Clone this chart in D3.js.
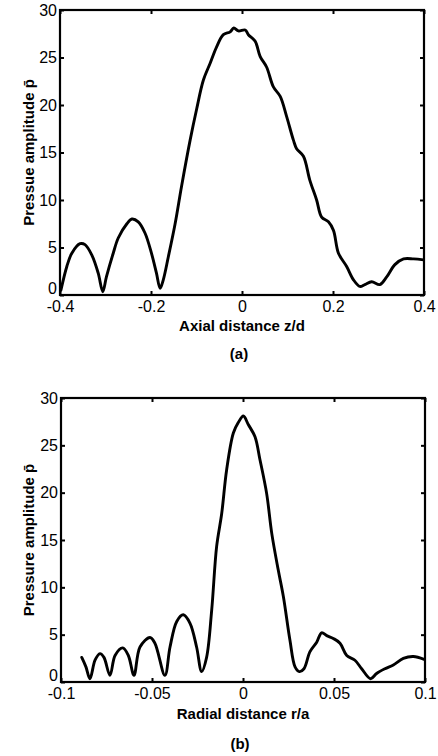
<!DOCTYPE html>
<html>
<head>
<meta charset="utf-8">
<script src="https://cdn.jsdelivr.net/npm/d3@7"></script>
<style>
  body { margin: 0; background: #fff; }
  svg text { font-family: "Liberation Sans", Arial, sans-serif; fill: #000; }
</style>
</head>
<body>
<div id="chart"></div>
<script>
// axial profile (a)
var axialZ = [-0.398, -0.385, -0.374, -0.356, -0.345, -0.330, -0.316, -0.306, -0.298, -0.283,
  -0.272, -0.253, -0.242, -0.228, -0.213, -0.199, -0.188, -0.180, -0.173, -0.162,
  -0.147, -0.133, -0.114, -0.100, -0.085, -0.070, -0.056, -0.041, -0.026, -0.018,
  -0.008, 0.007, 0.014, 0.029, 0.040, 0.054, 0.069, 0.084, 0.098, 0.113,
  0.120, 0.135, 0.149, 0.164, 0.175, 0.190, 0.201, 0.212, 0.230, 0.245,
  0.259, 0.270, 0.285, 0.303, 0.318, 0.336, 0.355, 0.377, 0.399];
var axialP = [0.5, 3.0, 4.4, 5.4, 5.3, 4.2, 2.3, 0.35, 1.9, 4.4,
  6.0, 7.5, 8.0, 7.7, 6.5, 4.4, 2.3, 0.7, 1.6, 4.0,
  7.5, 11.4, 16.3, 19.5, 22.6, 24.4, 26.1, 27.4, 27.7, 28.1,
  27.8, 27.9, 27.4, 26.7, 25.1, 24.0, 21.9, 20.9, 18.8, 16.3,
  15.4, 14.6, 12.1, 10.0, 8.2, 7.7, 6.8, 4.4, 3.0, 1.6,
  0.9, 1.1, 1.4, 1.1, 1.9, 3.2, 3.8, 3.8, 3.7];

// radial profile (b)
var radialR = [-0.0886, -0.0863, -0.0841, -0.0813, -0.0786, -0.0764, -0.0731, -0.0703, -0.0661, -0.0630,
  -0.0599, -0.0566, -0.0511, -0.0484, -0.0429, -0.0401, -0.0364, -0.0328, -0.0291, -0.0255,
  -0.0227, -0.0200, -0.0172, -0.0145, -0.0117, -0.0090, -0.0053, -0.0026, 0.0002, 0.0029,
  0.0066, 0.0093, 0.0130, 0.0158, 0.0194, 0.0222, 0.0258, 0.0286, 0.0310, 0.0335,
  0.0368, 0.0405, 0.0432, 0.0460, 0.0496, 0.0533, 0.0570, 0.0615, 0.0652, 0.0701,
  0.0734, 0.0780, 0.0826, 0.0881, 0.0936, 0.0995];
var radialP = [2.6, 1.6, 0.35, 2.3, 3.0, 2.6, 0.7, 2.8, 3.6, 2.8,
  0.7, 3.7, 4.7, 4.1, 0.7, 3.7, 6.4, 7.1, 6.2, 3.7,
  1.1, 2.6, 7.6, 14.3, 17.8, 22.4, 26.3, 27.4, 28.1, 27.2,
  25.9, 23.5, 19.9, 15.7, 11.8, 9.0, 4.4, 1.6, 1.1, 1.4,
  3.2, 4.2, 5.2, 4.9, 4.6, 4.1, 2.8, 2.3, 1.4, 0.35,
  0.9, 1.4, 1.8, 2.5, 2.7, 2.4];

var axialTicks = [-0.4, -0.2, 0, 0.2, 0.4];
var axialTickLabels = ["-0.4", "-0.2", "0", "0.2", "0.4"];
var radialTicks = [-0.1, -0.05, 0, 0.05, 0.1];
var radialTickLabels = ["-0.1", "-0.05", "0", "0.05", "0.1"];
var pressureTicks = [0, 5, 10, 15, 20, 25, 30];

var W = 438, H = 756;

var svg = d3.select("#chart").append("svg")
  .attr("width", W)
  .attr("height", H);

var panels = [
  { left: 60, top: 10, right: 424, bottom: 295,
    xs: axialZ, ys: axialP, xDomain: [-0.4, 0.4], xTicks: axialTicks, xLabels: axialTickLabels,
    xTitle: "Axial distance z/d", yTitle: "Pressue amplitude p\u0304", tag: "(a)",
    xTitleY: 331, tagY: 359 },
  { left: 61, top: 398, right: 425, bottom: 682,
    xs: radialR, ys: radialP, xDomain: [-0.1, 0.1], xTicks: radialTicks, xLabels: radialTickLabels,
    xTitle: "Radial distance r/a", yTitle: "Pressure amplitude p\u0304", tag: "(b)",
    xTitleY: 719, tagY: 749 }
];

panels.forEach(function(p){
  var w = p.right - p.left;
  var h = p.bottom - p.top;
  var x = d3.scaleLinear().domain(p.xDomain).range([0, w]);
  var y = d3.scaleLinear().domain([0, 30]).range([h, 0]);

  var g = svg.append("g").attr("transform", "translate(" + p.left + "," + p.top + ")");

  // bottom axis with labels, ticks pointing inward
  var xa = g.append("g").attr("transform", "translate(0," + h + ")")
    .call(d3.axisBottom(x).tickValues(p.xTicks)
      .tickFormat(function(d, i){ return p.xLabels[i]; })
      .tickSizeInner(-4).tickSizeOuter(0).tickPadding(6));
  var ya = g.append("g")
    .call(d3.axisLeft(y).tickValues(pressureTicks)
      .tickFormat(d3.format("d"))
      .tickSizeInner(-4).tickSizeOuter(0).tickPadding(3));
  var xt = g.append("g")
    .call(d3.axisTop(x).tickValues(p.xTicks).tickFormat("")
      .tickSizeInner(-4).tickSizeOuter(0));
  var yr = g.append("g").attr("transform", "translate(" + w + ",0)")
    .call(d3.axisRight(y).tickValues(pressureTicks).tickFormat("")
      .tickSizeInner(-4).tickSizeOuter(0));

  [xa, ya, xt, yr].forEach(function(a){
    a.select(".domain").remove();
    a.selectAll(".tick line").attr("stroke", "#000").attr("stroke-width", 2);
    a.selectAll(".tick text")
      .style("font-family", "'Liberation Sans', Arial, sans-serif")
      .style("font-size", "16px")
      .attr("fill", "#000");
  });
  // lift the "0" a touch so it clears the first x label
  ya.selectAll(".tick text").filter(function(d){ return d === 0; }).attr("dy", "-0.08em");

  // the box
  g.append("rect")
    .attr("x", 0).attr("y", 0)
    .attr("width", w).attr("height", h)
    .attr("fill", "none")
    .attr("stroke", "#000")
    .attr("stroke-width", 2.2);

  var pts = p.xs.map(function(v, i){ return [v, p.ys[i]]; });
  var line = d3.line()
    .x(function(d){ return x(d[0]); })
    .y(function(d){ return y(d[1]); })
    .curve(d3.curveCatmullRom.alpha(0.5));

  g.append("path")
    .datum(pts)
    .attr("d", line)
    .attr("fill", "none")
    .attr("stroke", "#000")
    .attr("stroke-width", 2.9)
    .attr("stroke-linejoin", "round")
    .attr("stroke-linecap", "round");

  // titles
  svg.append("text")
    .attr("x", p.left + w / 2)
    .attr("y", p.xTitleY)
    .attr("text-anchor", "middle")
    .style("font-size", "15px")
    .style("font-weight", "bold")
    .text(p.xTitle);

  svg.append("text")
    .attr("transform", "translate(34," + (p.top + h / 2) + ") rotate(-90)")
    .attr("text-anchor", "middle")
    .style("font-size", "15px")
    .style("font-weight", "bold")
    .text(p.yTitle);

  svg.append("text")
    .attr("x", p.left + w / 2 - 3)
    .attr("y", p.tagY)
    .attr("text-anchor", "middle")
    .style("font-size", "15px")
    .style("font-weight", "bold")
    .text(p.tag);
});
</script>
</body>
</html>
